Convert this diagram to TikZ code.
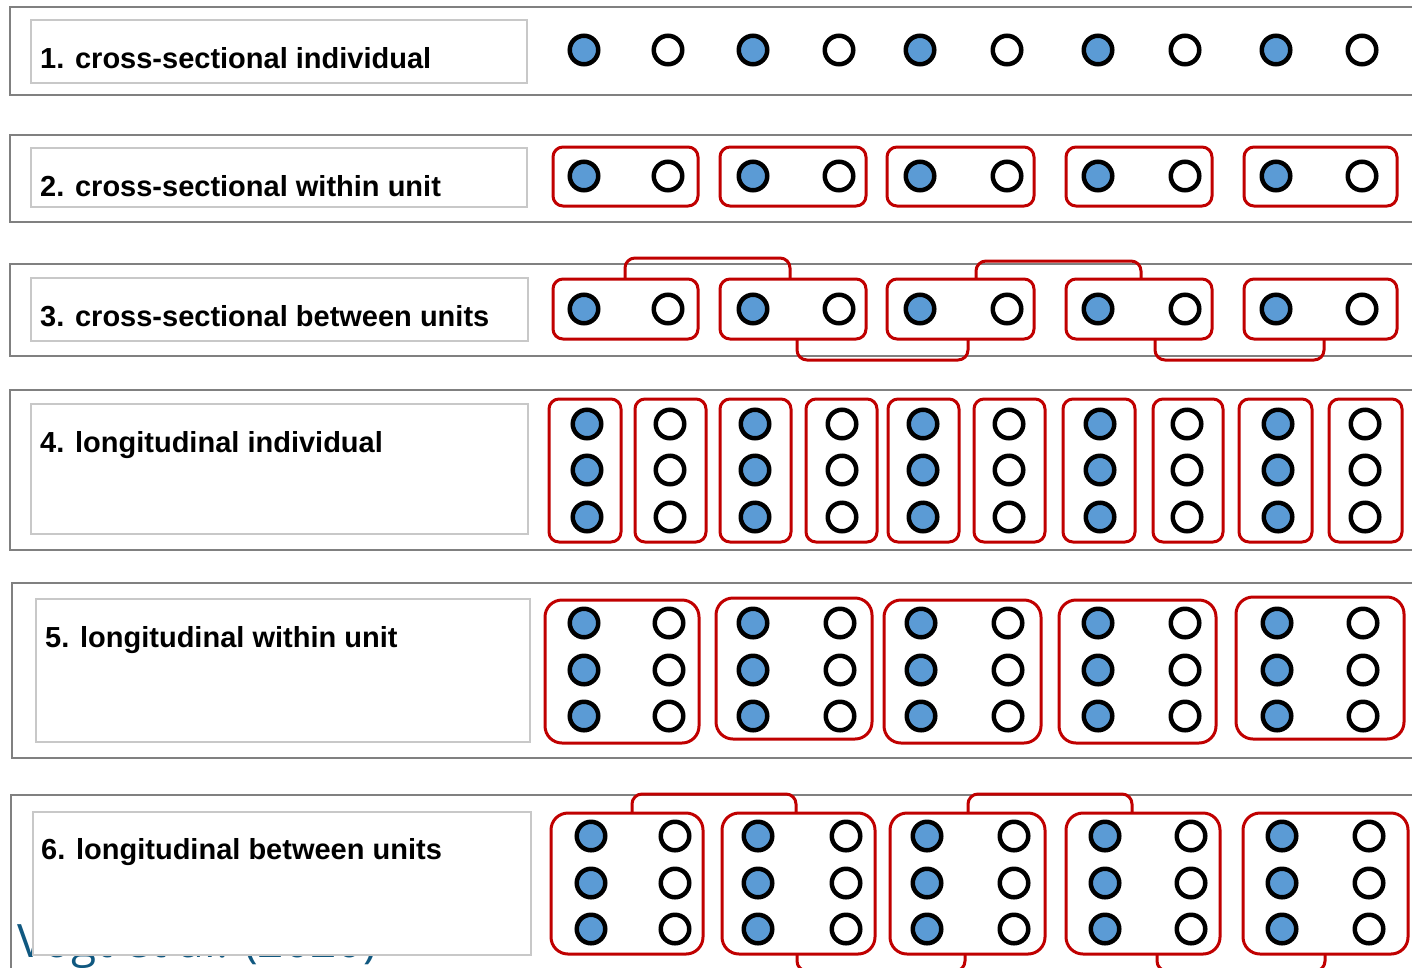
\documentclass[tikz,border=0pt]{standalone}
\usepackage{fontspec}
\setmainfont{Liberation Sans}
\newfontfamily\vogtfont{Open Sans}
\definecolor{dotblue}{HTML}{5B9BD5}
\definecolor{unitred}{HTML}{C00000}
\definecolor{framegray}{HTML}{808080}
\definecolor{labelgray}{HTML}{C8C8C8}
\definecolor{vogtcol}{RGB}{16,88,128}
\begin{document}
\begin{tikzpicture}[x=1pt,y=-1pt,
  framebox/.style={draw=framegray,line width=2.5pt},
  labelbox/.style={draw=labelgray,line width=2.5pt,fill=white},
  labeltext/.style={anchor=base west,inner sep=0pt,font=\fontsize{29}{33}\selectfont\bfseries},
  unitbox/.style={draw=unitred,line width=3pt,rounded corners=10pt},
  bigunit/.style={draw=unitred,line width=3pt,rounded corners=17pt},
  bracket/.style={draw=unitred,line width=3pt,rounded corners=10pt},
  dotfull/.style={circle,draw=black,fill=dotblue,line width=4.5pt,minimum size=28.5pt,inner sep=0pt},
  dotempty/.style={circle,draw=black,fill=white,line width=4.5pt,minimum size=28.5pt,inner sep=0pt}]
\useasboundingbox (0,0) rectangle (1412,967);
\clip (0,0) rectangle (1412,967);
\fill[white] (0,0) rectangle (1412,967);
% outer frames (open to the right)
\draw[framebox] (1430,7) -- (10,7) -- (10,95) -- (1430,95);
\draw[framebox] (1430,135) -- (10,135) -- (10,222) -- (1430,222);
\draw[framebox] (1430,264) -- (10,264) -- (10,356) -- (1430,356);
\draw[framebox] (1430,390) -- (10,390) -- (10,550) -- (1430,550);
\draw[framebox] (1430,583) -- (12,583) -- (12,758) -- (1430,758);
\draw[framebox] (1430,795) -- (11,795) -- (11,1000);
% citation text, partly hidden behind the label box
\node[anchor=base west,inner sep=0pt,text=vogtcol,font=\vogtfont\fontsize{46}{50}\selectfont] (vogt) at (17,957) {Vogt et al. (2020)};
% label boxes
\draw[labelbox] (31,20) rectangle (527,83);
\draw[labelbox] (31,148) rectangle (527,207);
\draw[labelbox] (31,278) rectangle (528,341);
\draw[labelbox] (31,404) rectangle (528,534);
\draw[labelbox] (36,599) rectangle (530,742);
\draw[labelbox] (33,812) rectangle (531,955);
\node[labeltext] (l1) at (40,68) {1. cross-sectional individual};
\node[labeltext] (l2) at (40,196) {2. cross-sectional within unit};
\node[labeltext] (l3) at (40,326) {3. cross-sectional between units};
\node[labeltext] (l4) at (40,452) {4. longitudinal individual};
\node[labeltext] (l5) at (45,647) {5. longitudinal within unit};
\node[labeltext] (l6) at (41,859) {6. longitudinal between units};
% row 2 units
\foreach \a/\b in {553/698,720/866,887/1034,1066/1212,1244/1397}
  \draw[unitbox] (\a,147) rectangle (\b,206);
% row 3 units and brackets
\foreach \a/\b in {553/698,720/866,887/1034,1066/1212,1244/1397}
  \draw[unitbox] (\a,279) rectangle (\b,339);
\draw[bracket] (625,279) -- (625,258) -- (790,258) -- (790,279);
\draw[bracket] (976,279) -- (976,261) -- (1141,261) -- (1141,279);
\draw[bracket] (797,339) -- (797,360) -- (968,360) -- (968,339);
\draw[bracket] (1155,339) -- (1155,360) -- (1324,360) -- (1324,339);
% row 4 units
\foreach \a/\b in {549/621,635/706,720/791,806/877,888/959,974/1045,1063/1135,1153/1223,1239/1312,1329/1402}
  \draw[unitbox] (\a,399) rectangle (\b,542);
% row 5 units
\draw[bigunit] (545,600) rectangle (699,743);
\draw[bigunit] (716,598) rectangle (872,739);
\draw[bigunit] (884,600) rectangle (1041,743);
\draw[bigunit] (1059,600) rectangle (1216,743);
\draw[bigunit] (1236,597) rectangle (1404,739);
% row 6 units and brackets
\foreach \a/\b in {551/703,722/875,890/1045,1066/1220,1243/1408}
  \draw[bigunit] (\a,813) rectangle (\b,954);
\draw[bracket] (632,813) -- (632,794) -- (796,794) -- (796,813);
\draw[bracket] (968,813) -- (968,794) -- (1132,794) -- (1132,813);
\draw[bracket] (797,954) -- (797,971) -- (965,971) -- (965,954);
\draw[bracket] (1157,954) -- (1157,971) -- (1325,971) -- (1325,954);
% dots
\foreach \x in {584,753,920,1098,1276} {
  \node[dotfull] (ra\x) at (\x,50) {};
  \node[dotfull] (rb\x) at (\x,176) {};
  \node[dotfull] (rc\x) at (\x,309) {};}
\foreach \x in {668,839,1007,1185,1362} {
  \node[dotempty] (ra\x) at (\x,50) {};
  \node[dotempty] (rb\x) at (\x,176) {};
  \node[dotempty] (rc\x) at (\x,309) {};}
\foreach \x in {587,755,923,1100,1278}
  \foreach \y in {424,470,517} \node[dotfull] (rd\x-\y) at (\x,\y) {};
\foreach \x in {670,842,1009,1187,1365}
  \foreach \y in {424,470,517} \node[dotempty] (rd\x-\y) at (\x,\y) {};
\foreach \x in {584,753,921,1098,1277}
  \foreach \y in {623,670,716} \node[dotfull] (re\x-\y) at (\x,\y) {};
\foreach \x in {669,840,1008,1185,1363}
  \foreach \y in {623,670,716} \node[dotempty] (re\x-\y) at (\x,\y) {};
\foreach \x in {591,758,927,1105,1282}
  \foreach \y in {836,883,929} \node[dotfull] (rf\x-\y) at (\x,\y) {};
\foreach \x in {675,846,1014,1191,1369}
  \foreach \y in {836,883,929} \node[dotempty] (rf\x-\y) at (\x,\y) {};
\end{tikzpicture}
\end{document}
